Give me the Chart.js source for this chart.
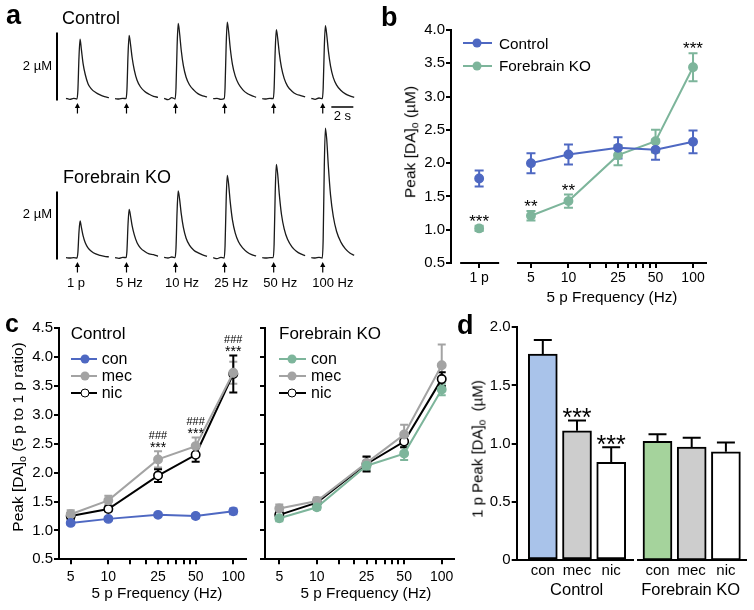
<!DOCTYPE html>
<html><head><meta charset="utf-8">
<script src="https://cdn.jsdelivr.net/npm/chart.js@4.4.1/dist/chart.umd.min.js"></script>
<style>
html,body{margin:0;padding:0;background:#fff}
body{width:754px;height:610px;overflow:hidden;position:relative;font-family:"Liberation Sans",Arial,sans-serif;color:#000}
canvas{position:absolute}
.t{position:absolute;white-space:nowrap;line-height:1;transform:translate(0,-50%)}
.c{transform:translate(-50%,-50%)}
.r{transform:translate(-100%,-50%)}
.v{transform:translate(-50%,-50%) rotate(-90deg)}
.p{font-weight:bold}
sub{font-size:68%;vertical-align:-0.28em;line-height:0}
.ln{position:absolute;height:2px;transform:translateY(-50%)}
.dt{position:absolute;width:9px;height:9px;border-radius:50%;transform:translate(-50%,-50%);box-sizing:border-box}
</style></head><body>
<canvas id="ca" width="370" height="300" style="left:0;top:0"></canvas>
<canvas id="cb1" width="133" height="310" style="left:380px;top:0"></canvas>
<canvas id="cb2" width="244" height="310" style="left:510px;top:0"></canvas>
<canvas id="cc1" width="260" height="310" style="left:0;top:300px"></canvas>
<canvas id="cc2" width="214" height="310" style="left:250px;top:300px"></canvas>
<canvas id="cd1" width="200" height="310" style="left:440px;top:300px"></canvas>
<canvas id="cd2" width="124" height="310" style="left:630px;top:300px"></canvas>

<div class="t p" style="left:6px;top:15px;font-size:27px">a</div>
<div class="t" style="left:62px;top:18px;font-size:18px">Control</div>
<div class="t r" style="left:52px;top:65px;font-size:13px">2 µM</div>
<div class="t" style="left:63px;top:177px;font-size:18px">Forebrain KO</div>
<div class="t r" style="left:52px;top:213px;font-size:13px">2 µM</div>

<div class="t p" style="left:381px;top:17px;font-size:27px">b</div>
<div class="ln" style="left:463px;top:43px;width:29px;background:#4e68c2"></div>
<div class="dt" style="left:477px;top:43px;background:#4e68c2"></div>
<div class="t" style="left:499px;top:43.5px;font-size:15.3px">Control</div>
<div class="ln" style="left:463px;top:66px;width:29px;background:#7db59b"></div>
<div class="dt" style="left:477px;top:66px;background:#7db59b"></div>
<div class="t" style="left:499px;top:66px;font-size:15.3px">Forebrain KO</div>
<div class="t v" style="left:410px;top:142px;font-size:15.5px">Peak [DA]<sub>o</sub> (µM)</div>
<div class="t c" style="left:612px;top:297px;font-size:15.3px">5 p Frequency (Hz)</div>

<div class="t p" style="left:5px;top:323px;font-size:25px">c</div>
<div class="t v" style="left:17.5px;top:437px;font-size:15.5px">Peak [DA]<sub>o</sub> (5 p to 1 p ratio)</div>
<div class="t" style="left:70.7px;top:332.5px;font-size:17px">Control</div>
<div class="ln" style="left:71px;top:359px;width:26px;background:#4e68c2"></div>
<div class="dt" style="left:85px;top:359px;background:#4e68c2"></div>
<div class="t" style="left:101.7px;top:359px;font-size:16px">con</div>
<div class="ln" style="left:71px;top:376px;width:26px;background:#a3a3a3"></div>
<div class="dt" style="left:85px;top:376px;background:#a3a3a3"></div>
<div class="t" style="left:101.7px;top:376px;font-size:16px">mec</div>
<div class="ln" style="left:71px;top:393px;width:26px;background:#000"></div>
<div class="dt" style="left:85px;top:393px;background:#fff;border:1.6px solid #000"></div>
<div class="t" style="left:101.7px;top:393px;font-size:16px">nic</div>
<div class="t" style="left:279px;top:332.5px;font-size:17px">Forebrain KO</div>
<div class="ln" style="left:279px;top:359px;width:27px;background:#7db59b"></div>
<div class="dt" style="left:292px;top:359px;background:#7db59b"></div>
<div class="t" style="left:311px;top:359px;font-size:16px">con</div>
<div class="ln" style="left:279px;top:376px;width:27px;background:#a3a3a3"></div>
<div class="dt" style="left:292px;top:376px;background:#a3a3a3"></div>
<div class="t" style="left:311px;top:376px;font-size:16px">mec</div>
<div class="ln" style="left:279px;top:393px;width:27px;background:#000"></div>
<div class="dt" style="left:292px;top:393px;background:#fff;border:1.6px solid #000"></div>
<div class="t" style="left:311px;top:393px;font-size:16px">nic</div>
<div class="t c" style="left:157px;top:593px;font-size:15.3px">5 p Frequency (Hz)</div>
<div class="t c" style="left:366px;top:593px;font-size:15.3px">5 p Frequency (Hz)</div>

<div class="t p" style="left:457px;top:325px;font-size:27px">d</div>
<div class="t v" style="left:477px;top:449px;font-size:15px">1 p Peak [DA]<sub>o</sub>&nbsp; (µM)</div>
<div class="t c" style="left:576.7px;top:589px;font-size:16.5px">Control</div>
<div class="t c" style="left:690.7px;top:589px;font-size:16.5px">Forebrain KO</div>

<script>
const FAM = '"Liberation Sans", Arial, sans-serif';
Chart.defaults.font.family = FAM;
Chart.defaults.color = '#000';
const TICK_Y = 15, TICK_X = 14;

// ===== Panel a: example traces (time in s from trace start, [DA] in µM) =====
const traceTime = [0, 0.35, 0.7, 1.0, 1.08, 1.18, 1.28, 1.4, 1.55, 1.75, 2.0, 2.3, 2.7, 3.1, 3.5, 3.9];
const stimLabels = ['1 p', '5 Hz', '10 Hz', '25 Hz', '50 Hz', '100 Hz'];
const controlTraces = [
  [0.02, -0.01, 0.02, 0.00, 0.26, 1.23, 1.76, 1.45, 1.05, 0.72, 0.45, 0.30, 0.19, 0.12, 0.07, 0.04],
  [0.01, 0.00, 0.02, 0.01, 0.28, 1.31, 1.87, 1.62, 1.22, 0.85, 0.55, 0.36, 0.22, 0.14, 0.08, 0.05],
  [0.02, -0.02, 0.04, 0.00, 0.33, 1.55, 2.22, 1.95, 1.45, 0.98, 0.64, 0.42, 0.26, 0.15, 0.09, 0.06],
  [0.01, 0.02, -0.01, 0.01, 0.34, 1.58, 2.26, 2.00, 1.50, 1.02, 0.68, 0.45, 0.27, 0.16, 0.10, 0.05],
  [0.01, 0.00, 0.02, 0.01, 0.31, 1.43, 2.04, 1.80, 1.35, 0.92, 0.60, 0.38, 0.23, 0.14, 0.10, 0.06],
  [0.02, -0.01, 0.03, 0.01, 0.32, 1.51, 2.16, 1.90, 1.42, 0.97, 0.63, 0.41, 0.25, 0.15, 0.09, 0.05]
];
const koTraces = [
  [0.01, 0.00, 0.01, 0.00, 0.16, 0.76, 1.09, 0.90, 0.66, 0.45, 0.30, 0.20, 0.12, 0.08, 0.05, 0.03],
  [0.01, -0.01, 0.02, 0.01, 0.21, 1.00, 1.43, 1.25, 0.95, 0.68, 0.45, 0.30, 0.19, 0.12, 0.10, 0.05],
  [0.02, 0.00, 0.03, 0.01, 0.30, 1.38, 1.97, 1.75, 1.32, 0.90, 0.58, 0.38, 0.23, 0.15, 0.09, 0.05],
  [0.01, -0.02, 0.02, 0.00, 0.36, 1.70, 2.43, 2.18, 1.65, 1.12, 0.74, 0.48, 0.29, 0.17, 0.10, 0.06],
  [0.01, 0.00, 0.01, 0.01, 0.41, 1.93, 2.75, 2.48, 1.88, 1.28, 0.85, 0.55, 0.33, 0.20, 0.12, 0.07],
  [0.01, 0.00, 0.02, 0.00, 0.57, 2.67, 3.82, 3.50, 2.70, 1.85, 1.22, 0.78, 0.46, 0.27, 0.15, 0.08]
];
const scaleBarUM = 2;   // µM
const timeBarS = 2;     // s

// ===== Panel b =====
const onePulse = ['1 p'];
const freqs = [5, 10, 25, 50, 100];
const freqLabelled = [5, 10, 25, 50, 100];
const freqTicks = [5, 10, 15, 20, 25, 30, 35, 40, 45, 50, 100];
const bCtrl1p = [1.77], bCtrl1pErr = [0.12];
const bKO1p = [1.02], bKO1pErr = [0.04], bKO1pStars = ['***'];
const bCtrl = [2.00, 2.13, 2.23, 2.20, 2.32], bCtrlErr = [0.15, 0.15, 0.16, 0.15, 0.17];
const bKO = [1.21, 1.43, 2.12, 2.33, 3.44], bKOErr = [0.07, 0.10, 0.15, 0.17, 0.21];
const bKOStars = ['**', '**', '', '', '***'];

// ===== Panel c =====
const cCtrlCon = [1.13, 1.20, 1.27, 1.25, 1.33], cCtrlConErr = [0.03, 0.03, 0.03, 0.04, 0.05];
const cCtrlMec = [1.28, 1.52, 2.23, 2.46, 3.73], cCtrlMecErr = [0.07, 0.08, 0.14, 0.15, 0.19];
const cCtrlNic = [1.25, 1.37, 1.95, 2.31, 3.71], cCtrlNicErr = [0.05, 0.04, 0.11, 0.12, 0.32];
const cCtrlStars = ['', '', '***', '***', '***'];
const cCtrlHashes = ['', '', '###', '###', '###'];
const cKOCon = [1.21, 1.40, 2.12, 2.33, 3.44], cKOConErr = [0.05, 0.04, 0.08, 0.11, 0.10];
const cKOMec = [1.38, 1.51, 2.17, 2.66, 3.86], cKOMecErr = [0.07, 0.06, 0.10, 0.17, 0.36];
const cKONic = [1.27, 1.48, 2.15, 2.54, 3.62], cKONicErr = [0.05, 0.06, 0.13, 0.10, 0.12];

// ===== Panel d =====
const dCats = ['con', 'mec', 'nic'];
const dCtrl = [1.77, 1.11, 0.84], dCtrlErr = [0.12, 0.09, 0.13], dCtrlStars = ['', '***', '***'];
const dKO = [1.02, 0.97, 0.93], dKOErr = [0.06, 0.08, 0.08];

// ===== styles =====
const BLUE = '#4e68c2', GREEN = '#7db59b', GREY = '#a3a3a3', BLACK = '#000000';
const dCtrlFill = ['#a9c3ea', '#cdcdcd', '#ffffff'];
const dKOFill = ['#a5d39c', '#cdcdcd', '#ffffff'];

// ===== plugins =====
function val(ds, i) { const d = ds.data[i]; return (d !== null && typeof d === 'object') ? d.y : d; }
function drawErr(chart, o) {
  const ctx = chart.ctx;
  chart.data.datasets.forEach((ds, di) => {
    if (!ds.errs) return;
    const meta = chart.getDatasetMeta(di);
    const ys = chart.scales[meta.yAxisID];
    ctx.save();
    ctx.strokeStyle = ds.errColor || '#000';
    ctx.lineWidth = o.lineWidth || 2;
    meta.data.forEach((el, i) => {
      const v = val(ds, i), e = ds.errs[i];
      if (!e) return;
      const top = ys.getPixelForValue(v + e);
      const bot = o.upOnly ? ys.getPixelForValue(v) : ys.getPixelForValue(v - e);
      const x = el.x, w = o.cap / 2;
      ctx.beginPath();
      ctx.moveTo(x, top); ctx.lineTo(x, bot);
      ctx.moveTo(x - w, top); ctx.lineTo(x + w, top);
      if (!o.upOnly) { ctx.moveTo(x - w, bot); ctx.lineTo(x + w, bot); }
      ctx.stroke();
    });
    ctx.restore();
  });
}
const errorBars = {
  id: 'errorBars',
  beforeDatasetsDraw(chart, a, o) { if (!o.front) drawErr(chart, o); },
  afterDatasetsDraw(chart, a, o) { if (o.front) drawErr(chart, o); }
};
const starMarks = {
  id: 'starMarks',
  afterDatasetsDraw(chart, a, o) {
    const ctx = chart.ctx;
    chart.data.datasets.forEach((ds, di) => {
      if (!ds.stars && !ds.hashes) return;
      const meta = chart.getDatasetMeta(di), ys = chart.scales[meta.yAxisID];
      meta.data.forEach((el, i) => {
        let top = val(ds, i) + (ds.errs ? ds.errs[i] : 0);
        if (o.groupTop) chart.data.datasets.forEach(d2 => { top = Math.max(top, val(d2, i) + (d2.errs ? d2.errs[i] : 0)); });
        const py = ys.getPixelForValue(top);
        ctx.save(); ctx.fillStyle = '#000'; ctx.textAlign = 'center'; ctx.textBaseline = 'alphabetic';
        if (ds.stars && ds.stars[i]) { ctx.font = (o.weight || 'normal') + ' ' + o.size + 'px ' + FAM; ctx.fillText(ds.stars[i], el.x, py - o.gap + 0.57 * o.size); }
        if (ds.hashes && ds.hashes[i]) { ctx.font = o.hsize + 'px ' + FAM; ctx.fillText(ds.hashes[i], el.x, py - o.hgap + 0.36 * o.hsize); }
        ctx.restore();
      });
    });
  }
};
const axisSeg = {
  id: 'axisSeg',
  afterDraw(chart, a, o) {
    const ctx = chart.ctx, xs = chart.scales.x;
    const px = xs.getPixelForTick(0), y = chart.chartArea.bottom;
    ctx.save(); ctx.strokeStyle = '#000'; ctx.lineWidth = 2;
    ctx.beginPath(); ctx.moveTo(px + o.from, y); ctx.lineTo(px + o.to, y); ctx.stroke();
    ctx.restore();
  }
};

// ===== panel a chart =====
const traceStart = 6.0, traceGap = 4.46, stimTime = 1.04;
const ctrlBase = 201 / 34, koBase = 42 / 34;
const traceDecor = {
  id: 'traceDecor',
  afterDatasetsDraw(chart) {
    const { ctx, scales: { x, y } } = chart;
    ctx.save(); ctx.strokeStyle = '#000'; ctx.fillStyle = '#000';
    [ctrlBase, koBase].forEach((base, row) => {
      const by = y.getPixelForValue(base);
      const sx = x.getPixelForValue(traceStart) - 9;
      ctx.lineWidth = 2;
      ctx.beginPath(); ctx.moveTo(sx, by + 1.5); ctx.lineTo(sx, y.getPixelForValue(base + scaleBarUM) + 1.5); ctx.stroke();
      stimLabels.forEach((lab, k) => {
        const ax = x.getPixelForValue(traceStart + k * traceGap + stimTime);
        ctx.lineWidth = 1.2;
        ctx.beginPath(); ctx.moveTo(ax, by + 8); ctx.lineTo(ax, by + 14.5); ctx.stroke();
        ctx.beginPath(); ctx.moveTo(ax, by + 4); ctx.lineTo(ax - 2.6, by + 9); ctx.lineTo(ax + 2.6, by + 9); ctx.closePath(); ctx.fill();
        if (row === 1) {
          ctx.font = '13px ' + FAM; ctx.textAlign = 'left'; ctx.textBaseline = 'middle';
          ctx.fillText(lab, x.getPixelForValue(traceStart + k * traceGap) + 1, by + 25.5);
        }
      });
    });
    const t0 = traceStart + 5 * traceGap + 1.82;
    const tb0 = x.getPixelForValue(t0), tb1 = x.getPixelForValue(t0 + timeBarS);
    const ty = y.getPixelForValue(ctrlBase) + 8;
    ctx.lineWidth = 1.5;
    ctx.beginPath(); ctx.moveTo(tb0, ty); ctx.lineTo(tb1, ty); ctx.stroke();
    ctx.font = '13px ' + FAM; ctx.textAlign = 'center'; ctx.textBaseline = 'middle';
    ctx.fillText(timeBarS + ' s', (tb0 + tb1) / 2, ty + 9);
    ctx.restore();
  }
};
function traceDS(vals, k, base) {
  return {
    data: traceTime.map((t, i) => ({ x: traceStart + k * traceGap + t, y: base + vals[i] })),
    borderColor: '#1a1a1a', borderWidth: 1.3, pointRadius: 0, cubicInterpolationMode: 'monotone', clip: false
  };
}
new Chart(document.getElementById('ca'), {
  type: 'line',
  data: { datasets: [...controlTraces.map((v, k) => traceDS(v, k, ctrlBase)), ...koTraces.map((v, k) => traceDS(v, k, koBase))] },
  options: {
    responsive: false, animation: false, events: [], layout: { padding: 0 },
    plugins: { legend: { display: false }, tooltip: { enabled: false } },
    scales: { x: { type: 'linear', display: false, min: 0, max: 370 / 11 }, y: { type: 'linear', display: false, min: 0, max: 300 / 34 } }
  },
  plugins: [traceDecor]
});

// ===== helpers =====
function pts(xs, ys) { return xs.map((x, i) => ({ x, y: ys[i] })); }
function lineDS(label, data, errs, color, fill, extra) {
  return Object.assign({
    label, data, errs, errColor: color, borderColor: color, backgroundColor: fill,
    pointBackgroundColor: fill, pointBorderColor: color, pointBorderWidth: 1.5, pointRadius: 4.2,
    borderWidth: 2, tension: 0, clip: false
  }, extra || {});
}
function linY(min, max, width, fmt, show) {
  return {
    type: 'linear', min, max,
    ticks: { stepSize: 0.5, font: { size: TICK_Y }, padding: 1, callback: v => show ? fmt(v) : '' },
    grid: { drawOnChartArea: false, tickLength: 5, lineWidth: 2, color: '#000' },
    border: { color: '#000', width: 2 },
    afterFit: s => { s.width = width; }
  };
}
function logX(min, max, height, pad) {
  return {
    type: 'logarithmic', min, max, offset: false,
    afterBuildTicks: s => { s.ticks = freqTicks.map(v => ({ value: v })); },
    ticks: { font: { size: TICK_X }, padding: pad, autoSkip: false, maxRotation: 0, callback: v => freqLabelled.includes(v) ? String(v) : '' },
    grid: { drawOnChartArea: false, tickLength: 5, lineWidth: 2, color: '#000' },
    border: { color: '#000', width: 2 },
    afterFit: s => { s.height = height; }
  };
}
function opts(pad, plug, scales) {
  return {
    responsive: false, animation: false, events: [], layout: { padding: pad },
    plugins: Object.assign({ legend: { display: false }, tooltip: { enabled: false } }, plug), scales
  };
}
const f1 = v => v.toFixed(1);

// ===== panel b =====
new Chart(document.getElementById('cb1'), {
  type: 'line',
  data: {
    labels: onePulse, datasets: [
      lineDS('Control', bCtrl1p, bCtrl1pErr, BLUE, BLUE, { showLine: false }),
      lineDS('Forebrain KO', bKO1p, bKO1pErr, GREEN, GREEN, { showLine: false, stars: bKO1pStars })
    ]
  },
  options: opts({ top: 30, left: 0, right: 0, bottom: 0 },
    { errorBars: { cap: 9, lineWidth: 2 }, starMarks: { size: 17, gap: 8.5 }, axisSeg: { from: -19, to: 20 } },
    {
      x: {
        type: 'category', offset: true,
        grid: { drawOnChartArea: false, tickLength: 5, lineWidth: 2, color: '#000' },
        border: { display: false }, ticks: { font: { size: TICK_X }, padding: 2 },
        afterFit: s => { s.height = 47; }
      },
      y: linY(0.5, 4.0, 71, f1, true)
    }),
  plugins: [errorBars, starMarks, axisSeg]
});
new Chart(document.getElementById('cb2'), {
  type: 'line',
  data: {
    datasets: [
      lineDS('Control', pts(freqs, bCtrl), bCtrlErr, BLUE, BLUE),
      lineDS('Forebrain KO', pts(freqs, bKO), bKOErr, GREEN, GREEN, { stars: bKOStars })
    ]
  },
  options: opts({ top: 30, left: 8, right: 48, bottom: 0 },
    { errorBars: { cap: 9, lineWidth: 2 }, starMarks: { size: 17, gap: 8.5 } },
    { x: logX(3.935, 127.1, 47, 2), y: { type: 'linear', display: false, min: 0.5, max: 4.0 } }),
  plugins: [errorBars, starMarks]
});

// ===== panel c =====
new Chart(document.getElementById('cc1'), {
  type: 'line',
  data: {
    datasets: [
      lineDS('con', pts(freqs, cCtrlCon), cCtrlConErr, BLUE, BLUE),
      lineDS('mec', pts(freqs, cCtrlMec), cCtrlMecErr, GREY, GREY),
      lineDS('nic', pts(freqs, cCtrlNic), cCtrlNicErr, BLACK, '#ffffff', { stars: cCtrlStars, hashes: cCtrlHashes, pointBorderWidth: 1.6 })
    ]
  },
  options: opts({ top: 28.3, left: 0, right: 14, bottom: 0 },
    { errorBars: { cap: 8, lineWidth: 2 }, starMarks: { size: 14, gap: 7, hsize: 11, hgap: 16, groupTop: true } },
    { x: logX(4.03, 126.4, 50.7, 4), y: linY(0.5, 4.5, 59, f1, true) }),
  plugins: [errorBars, starMarks]
});
new Chart(document.getElementById('cc2'), {
  type: 'line',
  data: {
    datasets: [
      lineDS('con', pts(freqs, cKOCon), cKOConErr, GREEN, GREEN),
      lineDS('mec', pts(freqs, cKOMec), cKOMecErr, GREY, GREY),
      lineDS('nic', pts(freqs, cKONic), cKONicErr, BLACK, '#ffffff', { pointBorderWidth: 1.6 })
    ]
  },
  options: opts({ top: 28.3, left: 0, right: 10, bottom: 0 },
    { errorBars: { cap: 8, lineWidth: 2 } },
    { x: logX(3.842, 125.4, 50.7, 4), y: linY(0.5, 4.5, 15, f1, false) }),
  plugins: [errorBars]
});

// ===== panel d =====
function barX(min, max) {
  return {
    type: 'linear', min, max, offset: false,
    afterBuildTicks: s => { s.ticks = dCats.map((c, i) => ({ value: i + 1 })); },
    ticks: { font: { size: 15 }, padding: 2, autoSkip: false, maxRotation: 0, callback: v => dCats[Math.round(v) - 1] },
    grid: { display: false, drawTicks: false, tickLength: 0 },
    border: { color: '#000', width: 2 },
    afterFit: s => { s.height = 50; }
  };
}
function barDS(vals, errs, fills, stars) {
  return {
    data: vals.map((v, i) => ({ x: i + 1, y: v })), errs, errColor: '#000', stars,
    backgroundColor: fills, borderColor: '#000', borderWidth: 2, borderSkipped: false, barThickness: 29
  };
}
new Chart(document.getElementById('cd1'), {
  type: 'bar',
  data: { datasets: [barDS(dCtrl, dCtrlErr, dCtrlFill, dCtrlStars)] },
  options: opts({ top: 27.3, left: 0, right: 6.7, bottom: 0 },
    { errorBars: { cap: 18, lineWidth: 2, upOnly: true, front: true }, starMarks: { size: 25, gap: 8.5 } },
    { x: barX(0.237, 3.646), y: linY(0, 2, 76.7, v => v === 0 ? '0' : v.toFixed(1), true) }),
  plugins: [errorBars, starMarks]
});
new Chart(document.getElementById('cd2'), {
  type: 'bar',
  data: { datasets: [barDS(dKO, dKOErr, dKOFill, null)] },
  options: opts({ top: 27.3, left: 8, right: 7.3, bottom: 0 },
    { errorBars: { cap: 18, lineWidth: 2, upOnly: true, front: true } },
    { x: barX(0.430, 3.608), y: { type: 'linear', display: false, min: 0, max: 2 } }),
  plugins: [errorBars]
});
</script>
</body></html>
